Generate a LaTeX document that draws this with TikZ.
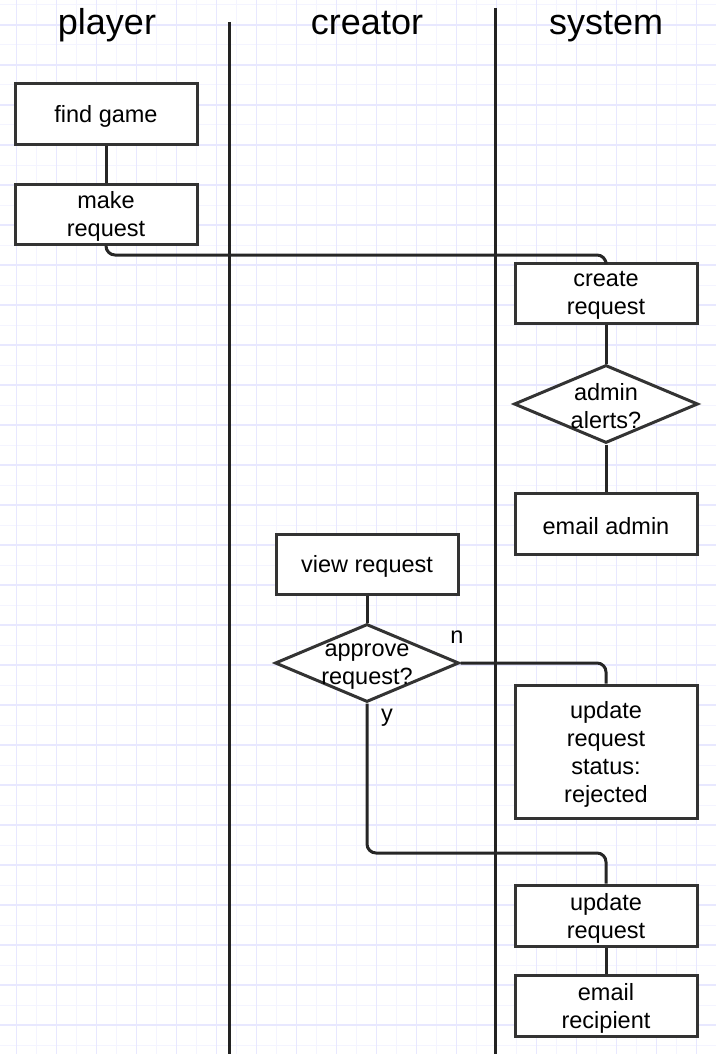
\documentclass[tikz,border=0pt]{standalone}
\usepackage{fontspec}
\setmainfont{Liberation Sans}
\usetikzlibrary{shapes.geometric}
\definecolor{gridmaj}{HTML}{E8E8FF}
\definecolor{gridmin}{HTML}{F4F4FF}
\definecolor{boxline}{HTML}{333333}
\definecolor{laneline}{HTML}{222222}
\tikzset{
  box/.style={draw=boxline, line width=3pt, fill=white, minimum width=182pt, minimum height=60pt, inner sep=0pt},
  btext/.style={align=center, font=\fontsize{23.5}{28}\selectfont, inner sep=0pt, yshift=-2.5pt},
  dia/.style={draw=boxline, line width=3pt, fill=white, shape=diamond, minimum width=184pt, minimum height=78pt, inner sep=0pt},
  conn/.style={draw=black!85, line width=3pt, rounded corners=9pt},
  lane/.style={draw=laneline, line width=3pt},
  title/.style={font=\fontsize{36}{40}\selectfont, inner sep=0pt, anchor=base},
  lbl/.style={font=\fontsize{23.5}{28}\selectfont, inner sep=0pt}
}
\begin{document}
\begin{tikzpicture}[x=1pt, y=-1pt]
\useasboundingbox (0,0) rectangle (716,1054);
\fill[white] (0,0) rectangle (716,1054);
% grid
\foreach \gx in {-3.3,36.7,...,716} {\draw[gridmin, line width=1pt] (\gx,0) -- (\gx,1054);}
\foreach \gy in {5,45,...,1054} {\draw[gridmin, line width=1pt] (0,\gy) -- (716,\gy);}
\foreach \gx in {16.7,56.7,...,716} {\draw[gridmaj, line width=1.3pt] (\gx,0) -- (\gx,1054);}
\foreach \gy in {25,65,...,1054} {\draw[gridmaj, line width=1.3pt] (0,\gy) -- (716,\gy);}
% titles
\node[title] (tplayer) at (107,35) {player};
\node[title] (tcreator) at (367,35) {creator};
\node[title] (tsystem) at (606,35) {system};
% lanes
\coordinate (l1top) at (229,22);
\coordinate (l1bot) at (229,1054);
\coordinate (l2top) at (495,8);
\coordinate (l2bot) at (495,1054);
\draw[lane] (l1top) -- (l1bot);
\draw[lane] (l2top) -- (l2bot);
% nodes
\node[box, label={[btext]center:{find game}}] (find) at (106,114) {};
\node[box, label={[btext]center:{make\\request}}] (make) at (106,214) {};
\node[box, label={[btext]center:{create\\request}}] (create) at (606,293) {};
\node[dia, label={[btext]center:{admin\\alerts?}}] (alerts) at (606,404) {};
\node[box, minimum height=61pt, label={[btext]center:{email admin}}] (emailadmin) at (606,523.5) {};
\node[box, label={[btext]center:{view request}}] (view) at (367,564) {};
\node[dia, label={[btext, yshift=-1.5pt]center:{approve\\request?}}] (approve) at (367,663) {};
\node[box, minimum height=133pt, label={[btext]center:{update\\request\\status:\\rejected}}] (reject) at (606,751.5) {};
\node[box, minimum height=61pt, label={[btext]center:{update\\request}}] (update) at (606,915.5) {};
\node[box, minimum height=61pt, label={[btext]center:{email\\recipient}}] (emailrec) at (606,1006) {};
% labels
\node[lbl] (nlbl) at (457,637) {n};
\node[lbl] (ylbl) at (387,718) {y};
% connectors
\coordinate (mkbend) at (106,255);
\coordinate (ybend) at (367,853);
\draw[conn] (find.south) -- (make.north);
\draw[conn] (make.south) -- (mkbend) -| (create.north);
\draw[conn] (create.south) -- (alerts.north);
\draw[conn] (alerts.south) -- (emailadmin.north);
\draw[conn] (view.south) -- (approve.north);
\draw[conn] (approve.east) -| (reject.north);
\draw[conn] (approve.south) -- (ybend) -| (update.north);
\draw[conn] (update.south) -- (emailrec.north);
\end{tikzpicture}
\end{document}
